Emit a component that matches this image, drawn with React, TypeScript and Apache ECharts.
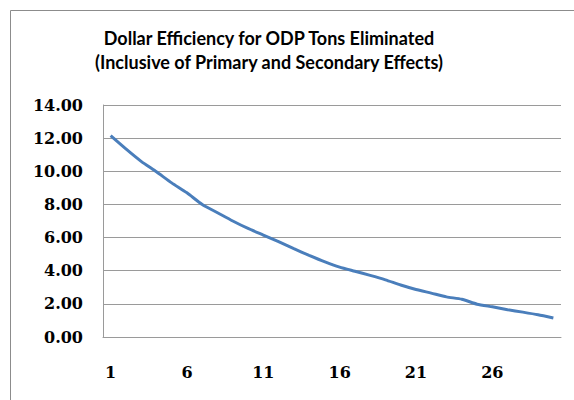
import React, { useEffect, useRef } from "react";
import * as echarts from "echarts";

const titleLines = [
  "Dollar Efficiency for ODP Tons Eliminated",
  "(Inclusive of Primary and Secondary Effects)",
];
const categories = Array.from({ length: 30 }, (_, i) => String(i + 1));
const efficiency = [
  12.15, 11.35, 10.6, 9.97, 9.3, 8.7, 8.0, 7.5, 7.0, 6.55,
  6.15, 5.75, 5.33, 4.93, 4.55, 4.22, 3.97, 3.72, 3.45, 3.14,
  2.87, 2.65, 2.42, 2.28, 1.98, 1.82, 1.65, 1.5, 1.34, 1.15,
];
const yMin = 0;
const yMax = 14;
const yStep = 2;

export default function App() {
  const ref = useRef<HTMLDivElement>(null);
  useEffect(() => {
    if (!ref.current) return;
    const chart = echarts.init(ref.current, null, { renderer: "svg" });
    chart.setOption({
      animation: false,
      backgroundColor: "#ffffff",
      graphic: [
        {
          type: "rect",
          shape: { x: 10.5, y: 10.5, width: 800, height: 600 },
          style: { fill: "none", stroke: "#8c8c8c", lineWidth: 1 },
          silent: true,
          z: -1,
        },
        {
          type: "text",
          x: 269,
          y: 26,
          style: {
            text: titleLines.join("\n"),
            fill: "#000000",
            font: "bold 18px Lato",
            align: "center",
            lineHeight: 24,
          },
        },
      ],
      grid: { left: 103, right: 13, top: 105, bottom: 63, containLabel: false },
      xAxis: {
        type: "category",
        data: categories,
        boundaryGap: true,
        axisLine: { show: true, lineStyle: { color: "#9a9a9a", width: 1 } },
        axisTick: { show: false },
        axisLabel: {
          interval: 4,
          margin: 27,
          color: "#000000",
          fontFamily: "DejaVu Serif",
          fontWeight: "bold",
          fontSize: 16,
        },
        splitLine: { show: false },
      },
      yAxis: {
        type: "value",
        min: yMin,
        max: yMax,
        interval: yStep,
        axisLine: { show: true, lineStyle: { color: "#9a9a9a", width: 1 } },
        axisTick: { show: false },
        axisLabel: {
          margin: 20,
          color: "#000000",
          fontFamily: "DejaVu Serif",
          fontWeight: "bold",
          fontSize: 16,
          formatter: (v: number) => v.toFixed(2),
        },
        splitLine: { show: true, lineStyle: { color: "#9a9a9a", width: 1 } },
      },
      series: [
        {
          type: "line",
          data: efficiency,
          showSymbol: false,
          smooth: 0.2,
          lineStyle: { color: "#4a7ebb", width: 3 },
        },
      ],
    });
    return () => chart.dispose();
  }, []);
  return (
    <div
      ref={ref}
      style={{ position: "fixed", left: 0, top: 0, width: 574, height: 400 }}
    />
  );
}
